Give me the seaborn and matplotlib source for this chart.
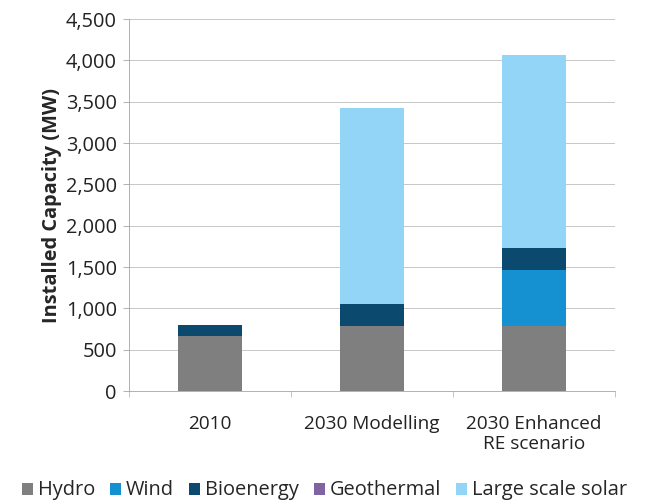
import numpy as np
import pandas as pd
import matplotlib
matplotlib.use("Agg")
import matplotlib.pyplot as plt
import seaborn as sns
from matplotlib.ticker import FuncFormatter, MultipleLocator
from matplotlib.patches import Patch

# -------------------------------
# Data
# -------------------------------

scenarios = ["2010", "2030 Modelling", "2030 Enhanced\nRE scenario"]
sources = ["Hydro", "Wind", "Bioenergy", "Geothermal", "Large scale solar"]

hydro = [665, 790, 790]
wind = [0, 0, 675]
bioenergy = [135, 262, 265]
geothermal = [0, 0, 0]
solar = [0, 2368, 2340]

colors = ["#7f7f7f", "#1591d2", "#0b4a6e", "#8064a2", "#93d5f6"]

df = pd.DataFrame({
    "Scenario": scenarios,
    "Hydro": hydro,
    "Wind": wind,
    "Bioenergy": bioenergy,
    "Geothermal": geothermal,
    "Large scale solar": solar,
})

# -------------------------------
# Plot
# -------------------------------

sns.set_style("white")
plt.rcParams["font.family"] = ["Open Sans", "DejaVu Sans"]

fig = plt.figure(figsize=(9, 7), dpi=72)
ax = fig.add_axes([0.199, 0.224, 0.75, 0.738])

bottom = np.zeros(len(scenarios))
for src, col in zip(sources, colors):
    sns.barplot(data=df, x="Scenario", y=src, color=col, bottom=bottom,
                width=0.4, ax=ax, saturation=1, linewidth=0)
    bottom = bottom + df[src].values

ax.set_ylim(0, 4500)
ax.set_xlim(-0.5, 2.5)
ax.yaxis.set_major_locator(MultipleLocator(500))
ax.yaxis.set_major_formatter(FuncFormatter(lambda v, p: f"{int(v):,}"))
ax.grid(axis="y", color="#c8c8c8", linewidth=1)
ax.set_axisbelow(True)

for side in ["top", "right"]:
    ax.spines[side].set_visible(False)
for side in ["left", "bottom"]:
    ax.spines[side].set_color("#a0a0a0")

ax.tick_params(axis="y", left=True, length=6, color="#a0a0a0", labelsize=20,
               labelcolor="#222222", pad=6)
ax.set_xticks([0, 1, 2])
ax.set_xticklabels(scenarios, fontsize=19, color="#222222", linespacing=1.2)
ax.set_xticks([-0.5, 0.5, 1.5, 2.5], minor=True)
ax.tick_params(axis="x", which="major", bottom=False, pad=20)
ax.tick_params(axis="x", which="minor", bottom=True, length=6, color="#a0a0a0")

ax.set_xlabel("")
ax.set_ylabel("Installed Capacity (MW)", fontsize=20, fontweight="bold", labelpad=4)

handles = [Patch(facecolor=c, label=s) for s, c in zip(sources, colors)]
fig.legend(handles=handles, loc="center", bbox_to_anchor=(0.5, 0.027), ncol=5,
           frameon=False, fontsize=20, handlelength=0.6, handleheight=0.6,
           handletextpad=0.25, columnspacing=0.7, borderpad=0)

plt.savefig("out.png", dpi=72)
plt.close()
